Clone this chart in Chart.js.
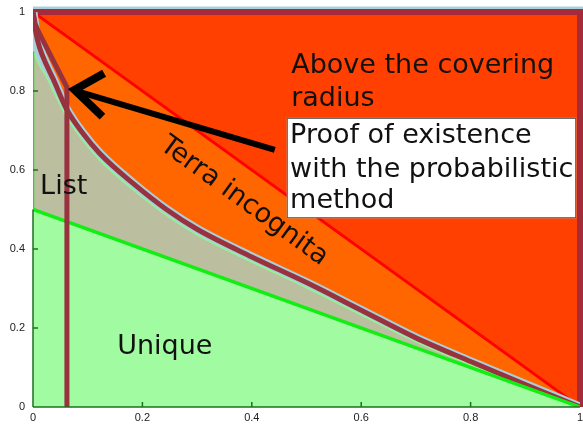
<!DOCTYPE html>
<html>
<head>
<meta charset="utf-8">
<script src="https://cdn.jsdelivr.net/npm/chart.js@4.4.1/dist/chart.umd.min.js"></script>
<style>
html, body { margin: 0; padding: 0; background: #fff; }
</style>
</head>
<body>
<canvas id="chart" width="583" height="425"></canvas>
<script>
// values
var tickValues = [0, 0.2, 0.4, 0.6, 0.8, 1];

var frameX = [0, 1, 1];
var frameY = [1, 1, 0];

var coverX = [0, 1];
var coverY = [1, 0];

var boundX = [0, 0.005, 0.012, 0.025, 0.037, 0.061, 0.09, 0.122, 0.183, 0.244, 0.3, 0.4, 0.5, 0.6, 0.7, 0.8, 0.9, 1];
var boundY = [1, 0.95, 0.91, 0.865, 0.83, 0.755, 0.695, 0.642, 0.566, 0.5, 0.45, 0.38, 0.315, 0.245, 0.175, 0.115, 0.057, 0];
var listY  = [0.9, 0.885, 0.865, 0.835, 0.8, 0.735, 0.677, 0.625, 0.55, 0.485, 0.436, 0.367, 0.302, 0.233, 0.165, 0.107, 0.052, 0];

var edgeX = [0, 0];
var edgeY = [0.5, 0.9];

var uniqueX = [0, 1];
var uniqueY = [0.5, 0];

var probX = [0, 0.004, 0.01, 0.037, 0.062, 0.062];
var probY = [1, 0.97, 0.95, 0.877, 0.81, 0];

var shaftX = [0.442, 0.086];
var shaftY = [0.651, 0.797];
var headX = [0.13, 0.076, 0.127];
var headY = [0.845, 0.803, 0.735];

var labels = [
    {text: 'Above the covering', x: 0.472, y: 0.846},
    {text: 'radius', x: 0.472, y: 0.763},
    {text: 'List', x: 0.013, y: 0.539},
    {text: 'Unique', x: 0.154, y: 0.134}
];
var boxLines = ['Proof of existence', 'with the probabilistic', 'method'];
var boxLineY = [0.668, 0.583, 0.504];

function pts(xs, ys) {
    return xs.map(function (x, i) {
        return {x: x, y: ys[i]};
    });
}

function line(data, color, width, order, extra) {
    var ds = {
        data: data,
        borderColor: color,
        borderWidth: width,
        pointRadius: 0,
        fill: false,
        order: order
    };
    for (var k in extra) ds[k] = extra[k];
    return ds;
}

var overlay = {
    id: 'overlay',
    afterDatasetsDraw: function (chart) {
        var ctx = chart.ctx;
        var xs = chart.scales.x;
        var ys = chart.scales.y;
        var px = function (v) { return xs.getPixelForValue(v); };
        var py = function (v) { return ys.getPixelForValue(v); };

        ctx.save();
        // axes and inward ticks
        ctx.strokeStyle = '#1f6f1f';
        ctx.lineWidth = 1.5;
        ctx.beginPath();
        ctx.moveTo(px(0), py(0));
        ctx.lineTo(px(1), py(0));
        ctx.moveTo(px(0), py(0));
        ctx.lineTo(px(0), py(0.5));
        ctx.stroke();
        ctx.beginPath();
        tickValues.slice(1, -1).forEach(function (v) {
            ctx.moveTo(px(v), py(0));
            ctx.lineTo(px(v), py(0) - 5);
            ctx.moveTo(px(0), py(v));
            ctx.lineTo(px(0) + 5, py(v));
        });
        ctx.stroke();

        ctx.font = '27px "DejaVu Sans"';
        ctx.fillStyle = '#111';
        ctx.textBaseline = 'alphabetic';
        ctx.textAlign = 'left';
        labels.forEach(function (l) {
            ctx.fillText(l.text, px(l.x), py(l.y));
        });

        // text box
        var bx = px(0.464), by = py(0.732), bw = px(0.993) - bx, bh = py(0.478) - by;
        ctx.fillStyle = '#fff';
        ctx.fillRect(bx, by, bw, bh);
        ctx.strokeStyle = '#555';
        ctx.lineWidth = 1;
        ctx.strokeRect(bx + 0.5, by + 0.5, bw - 1, bh - 1);
        ctx.save();
        ctx.beginPath();
        ctx.rect(bx, by, bw - 1, bh);
        ctx.clip();
        ctx.fillStyle = '#111';
        boxLines.forEach(function (t, i) {
            ctx.fillText(t, px(0.47), py(boxLineY[i]));
        });
        ctx.restore();

        // rotated label
        ctx.fillStyle = '#111';
        ctx.translate(px(0.378), py(0.506));
        ctx.rotate(36 * Math.PI / 180);
        ctx.textAlign = 'center';
        ctx.fillText('Terra incognita', 0, 0);
        ctx.restore();
    }
};

var smooth = {cubicInterpolationMode: 'monotone'};

function tickLabel(v) {
    return String(Math.round(v * 10) / 10);
}

new Chart(document.getElementById('chart'), {
    type: 'scatter',
    data: {
        datasets: [
            line(pts(frameX, frameY), '#a9cfdc', 11, 10, {clip: false}),
            line(pts(frameX, frameY), '#a52a3a', 6, 9, {clip: false, fill: 'origin', backgroundColor: '#ff4000'}),
            line(pts(coverX, coverY), '#ff0000', 3, 8, {fill: 'origin', backgroundColor: '#ff6600'}),
            line(pts(boundX, boundY), '#a9cfdc', 9, 7, Object.assign({fill: 'origin', backgroundColor: '#a9cfdc'}, smooth)),
            line(pts(boundX, listY), '#8ff58f', 1.5, 6, Object.assign({fill: 'origin', backgroundColor: '#bbbe9f'}, smooth)),
            line(pts(boundX, boundY), '#99323f', 5, 5, smooth),
            line(pts(edgeX, edgeY), '#22dd22', 2.5, 4, {}),
            line(pts(uniqueX, uniqueY), '#11ee11', 3.5, 3, {fill: 'origin', backgroundColor: '#a1fca1'}),
            line(pts(probX, probY), '#99323f', 5, 2, {}),
            line(pts(shaftX, shaftY), '#000', 6, 1, {}),
            line(pts(headX, headY), '#000', 8, 0, {borderJoinStyle: 'miter'})
        ]
    },
    options: {
        responsive: false,
        animation: false,
        devicePixelRatio: 1,
        showLine: true,
        layout: {padding: {top: 12, right: 3, left: 0, bottom: 0}},
        plugins: {
            legend: {display: false},
            tooltip: {enabled: false}
        },
        scales: {
            x: {
                type: 'linear',
                min: 0,
                max: 1,
                grid: {display: false, drawTicks: false},
                border: {display: false},
                ticks: {stepSize: 0.2, padding: 4, color: '#222', font: {family: 'Liberation Sans', size: 11}, callback: tickLabel},
                afterFit: function (s) {
                    s.height = 18;
                    s.paddingLeft = 0;
                    s.paddingRight = 0;
                }
            },
            y: {
                min: 0,
                max: 1,
                grid: {display: false, drawTicks: false},
                border: {display: false},
                ticks: {stepSize: 0.2, padding: 8, color: '#222', font: {family: 'Liberation Sans', size: 11}, callback: tickLabel},
                afterFit: function (s) {
                    s.width = 33;
                    s.paddingTop = 0;
                    s.paddingBottom = 0;
                }
            }
        }
    },
    plugins: [overlay]
});
</script>
</body>
</html>
